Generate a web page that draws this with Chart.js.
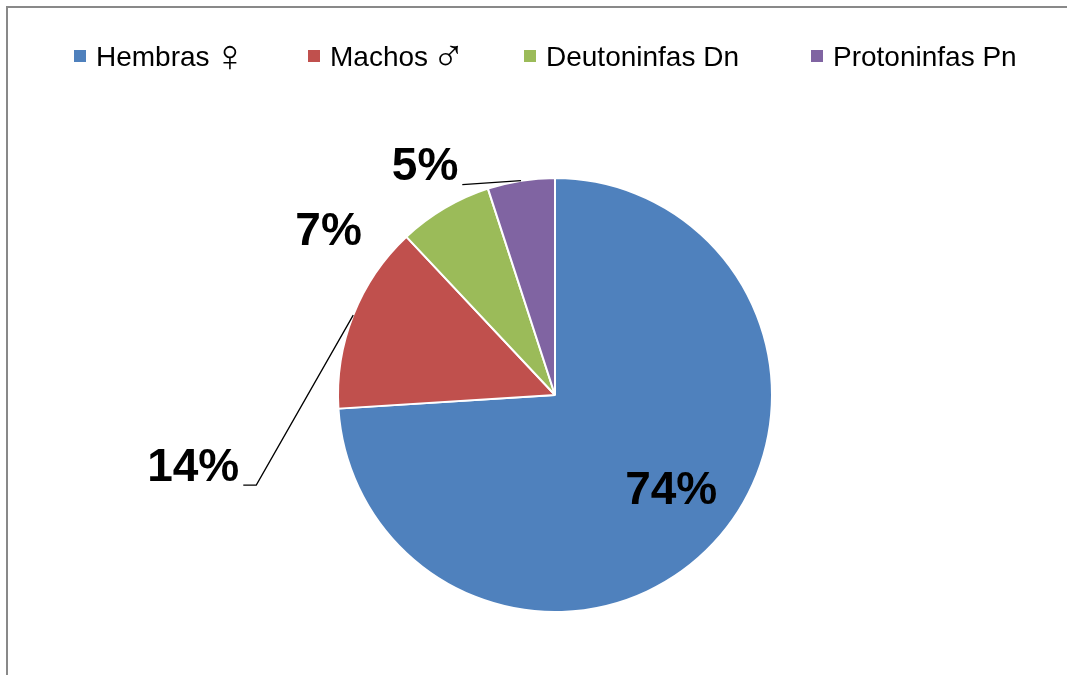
<!DOCTYPE html>
<html>
<head>
<meta charset="utf-8">
<script src="https://cdn.jsdelivr.net/npm/chart.js@4/dist/chart.umd.min.js"></script>
<style>
  html, body { margin: 0; padding: 0; background: #fff; }
  #frame { position: absolute; left: 6px; top: 6px; width: 1080px; height: 690px;
           border-top: 2px solid #898989; border-left: 2px solid #898989; }
  #myChart { position: absolute; left: 0; top: 0; }
</style>
</head>
<body>
<div id="frame"></div>
<canvas id="myChart" width="1067" height="675"></canvas>
<script>
var categories = ["Hembras \u2640", "Machos \u2642", "Deutoninfas Dn", "Protoninfas Pn"];
var values = [74, 14, 7, 5];
var colors = ["#4F81BD", "#C0504D", "#9BBB59", "#8064A2"];

// label placement relative to the outer middle of each slice: [dx, dy, leader?]
var labelOffsets = [[-42, -52, false], [-160, 153, true], [-116, 24, false], [-96, -13, true]];
var legendX = [74, 308, 524, 811];

var textFont = '28px "Liberation Sans", Arial, sans-serif';
var symFont = '45px "Liberation Sans", Arial, sans-serif';

var legendPlugin = {
  id: 'topLegend',
  afterDraw: function (chart) {
    var ctx = chart.ctx;
    ctx.save();
    ctx.textBaseline = 'alphabetic';
    categories.forEach(function (c, i) {
      var x = legendX[i];
      ctx.fillStyle = colors[i];
      ctx.fillRect(x, 50, 12, 12);
      ctx.fillStyle = '#000';
      var tx = x + 22;
      // gender signs are drawn larger, like in the original
      for (var k = 0; k < c.length; k++) {
        var ch = c[k];
        var isSym = ch === '\u2640' || ch === '\u2642';
        ctx.font = isSym ? symFont : textFont;
        ctx.fillText(ch, isSym ? tx - 4 : tx, isSym ? 71 : 66);
        tx += ctx.measureText(ch).width;
      }
    });
    ctx.restore();
  }
};

var labelPlugin = {
  id: 'pctLabels',
  afterDatasetsDraw: function (chart) {
    var ctx = chart.ctx;
    var meta = chart.getDatasetMeta(0);
    var total = values.reduce(function (a, b) { return a + b; }, 0);
    ctx.save();
    ctx.font = 'bold 46px "Liberation Sans", Arial, sans-serif';
    ctx.fillStyle = '#000';
    ctx.strokeStyle = '#000';
    ctx.lineWidth = 1.3;
    meta.data.forEach(function (arc, i) {
      var p = arc.getProps(['x', 'y', 'startAngle', 'endAngle', 'outerRadius']);
      var mid = (p.startAngle + p.endAngle) / 2;
      var ax = p.x + Math.cos(mid) * p.outerRadius;
      var ay = p.y + Math.sin(mid) * p.outerRadius;
      var off = labelOffsets[i];
      var lx = ax + off[0], ly = ay + off[1];
      var txt = Math.round(values[i] / total * 100) + '%';
      var w = ctx.measureText(txt).width;
      if (off[2]) {
        var ey = ly + 17;
        var ex = lx + w / 2 + 4;
        ctx.beginPath();
        ctx.moveTo(ax, ay);
        if (i === 1) {
          ctx.lineTo(ex + 13, ey);
        }
        ctx.lineTo(ex, ey);
        ctx.stroke();
      }
      ctx.textAlign = 'center';
      ctx.textBaseline = 'middle';
      ctx.fillText(txt, lx, ly);
    });
    ctx.restore();
  }
};

var ctx = document.getElementById('myChart').getContext('2d');
var myChart = new Chart(ctx, {
  type: 'pie',
  data: {
    labels: categories,
    datasets: [{
      data: values,
      backgroundColor: colors,
      borderColor: '#ffffff',
      borderWidth: 2
    }]
  },
  options: {
    responsive: false,
    animation: false,
    layout: { padding: { left: 337, right: 294, top: 177, bottom: 62 } },
    plugins: {
      legend: { display: false },
      tooltip: { enabled: false }
    }
  },
  plugins: [legendPlugin, labelPlugin]
});
</script>
</body>
</html>
